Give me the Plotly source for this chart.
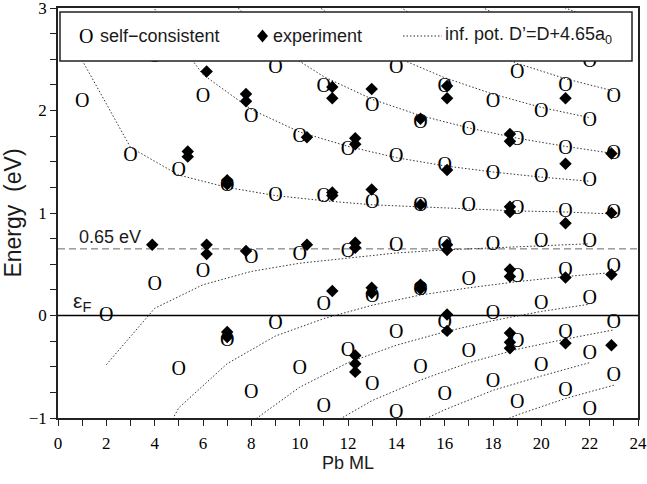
import plotly.graph_objects as go

# ---- self-consistent calculation (open "O" symbols) ----
sc_x = [1, 2, 3, 4, 4, 5, 5, 6, 6, 7, 7,
        8, 8, 8, 9, 9, 9, 10, 10, 10,
        11, 11, 11, 11, 12, 12, 12,
        13, 13, 13, 13, 14, 14, 14, 14, 14,
        15, 15, 15, 15, 16, 16, 16, 16, 16,
        17, 17, 17, 17, 18, 18, 18, 18, 18,
        19, 19, 19, 19, 19, 19, 20, 20, 20, 20, 20,
        21, 21, 21, 21, 21, 21, 22, 22, 22, 22, 22, 22, 22,
        23, 23, 23, 23, 23, 23]
sc_y = [2.08, 0.00, 1.56, 2.52, 0.30, 1.41, -0.53, 2.13, 0.42, 1.26, -0.25,
        1.94, 0.56, -0.76, 2.41, 1.17, -0.08, 1.74, 0.59, -0.52,
        2.23, 1.16, 0.10, -0.89, 1.61, 0.62, -0.35,
        2.04, 1.10, 0.18, -0.68, 2.41, 1.55, 0.68, -0.17, -0.95,
        1.88, 1.07, 0.25, -0.51, 2.23, 1.46, 0.69, -0.07, -0.78,
        1.81, 1.07, 0.35, -0.36, 2.08, 1.38, 0.69, 0.01, -0.65,
        2.37, 1.71, 1.04, 0.38, -0.26, -0.85, 1.99, 1.35, 0.72, 0.11, -0.49,
        2.24, 1.62, 1.01, 0.43, -0.17, -0.74, 2.47, 1.90, 1.31, 0.72, 0.16, -0.38, -0.92,
        2.13, 1.58, 1.00, 0.47, -0.07, -0.59]

# ---- experiment (filled diamonds) ----
exp_x = [3.9, 5.37, 5.37, 6.15, 6.15, 6.15,
         7.0, 7.0, 7.0, 7.0, 7.78, 7.78, 7.78,
         10.3, 10.3, 11.35, 11.35, 11.35, 11.35, 11.35,
         12.3, 12.3, 12.3, 12.3, 12.3, 12.3, 12.3,
         12.98, 12.98, 12.98, 12.98, 15.0, 15.0, 15.0, 15.0,
         16.1, 16.1, 16.1, 16.1, 16.1, 16.1, 16.1,
         18.7, 18.7, 18.7, 18.7, 18.7, 18.7, 18.7, 18.7, 18.7,
         21.0, 21.0, 21.0, 21.0, 21.0,
         22.9, 22.9, 22.9, 22.9]
exp_y = [0.69, 1.60, 1.55, 2.38, 0.69, 0.60,
         1.32, 1.28, -0.16, -0.21, 2.16, 2.09, 0.63,
         1.74, 0.69, 2.23, 2.12, 1.20, 1.17, 0.24,
         1.73, 1.67, 0.71, 0.66, -0.39, -0.47, -0.55,
         2.21, 1.23, 0.27, 0.22, 1.92, 1.08, 0.30, 0.26,
         2.24, 2.12, 1.42, 0.69, 0.64, 0.01, -0.15,
         1.77, 1.70, 1.06, 1.01, 0.45, 0.38, -0.17, -0.26, -0.32,
         2.12, 1.48, 0.90, 0.37, -0.27,
         1.58, 1.00, 0.40, -0.29]

# ---- infinite-potential-well levels, D' = D + 4.65 a0 ----
odd_ml = [1, 3, 5, 7, 9, 11, 13, 15, 17, 19, 21, 23]
even_ml = [2, 4, 6, 8, 10, 12, 14, 16, 18, 20, 22]

well_odd = [
    [None, None, None, None, None, None, None, -1.41, -1.17, -0.97, -0.81, -0.68],
    [None, None, None, None, -1.48, -1.10, -0.83, -0.63, -0.46, -0.33, -0.23, -0.14],
    [None, -1.76, -0.90, -0.47, -0.20, -0.03, 0.10, 0.20, 0.27, 0.33, 0.38, 0.42],
    [2.49, 1.64, 1.37, 1.25, 1.17, 1.12, 1.08, 1.06, 1.04, 1.02, 1.01, 0.99],
    [None, None, 3.92, 3.11, 2.63, 2.33, 2.11, 1.95, 1.83, 1.73, 1.65, 1.58],
    [None, None, None, None, None, 3.60, 3.19, 2.88, 2.65, 2.46, 2.31, 2.19],
    [None, None, None, None, None, None, None, None, None, 3.22, 3.00, 2.81],
]
well_even = [
    [None, None, None, -2.39, -1.83, -1.44, -1.14, -0.92, -0.73, -0.59, -0.46],
    [None, -2.46, -1.56, -1.04, -0.70, -0.46, -0.29, -0.16, -0.05, 0.04, 0.11],
    [-0.48, 0.07, 0.30, 0.43, 0.51, 0.56, 0.61, 0.64, 0.66, 0.68, 0.70],
    [None, 2.99, 2.35, 2.01, 1.79, 1.65, 1.54, 1.46, 1.40, 1.35, 1.31],
    [None, None, None, 3.71, 3.16, 2.79, 2.52, 2.32, 2.16, 2.03, 1.93],
    [None, None, None, None, None, None, 3.54, 3.21, 2.95, 2.74, 2.57],
]

E_MARK = 0.65

SERIF = "Liberation Serif"
SANS = "Liberation Sans"
INK = "#1a1a1a"
DOTS = "1.5px,2px"

fig = go.Figure()

def add_level(xs, ys):
    px = [x for x, y in zip(xs, ys) if y is not None]
    py = [y for y in ys if y is not None]
    fig.add_trace(go.Scatter(x=px, y=py, mode="lines",
                             line=dict(color="#333333", width=1, dash=DOTS),
                             hoverinfo="skip"))

for row in well_odd:
    add_level(odd_ml, row)
for row in well_even:
    add_level(even_ml, row)

fig.add_trace(go.Scatter(x=sc_x, y=sc_y, mode="text", text=["O"] * len(sc_x),
                         textposition="middle center",
                         textfont=dict(family=SERIF, size=20, color="black"),
                         name="self-consistent"))
fig.add_trace(go.Scatter(x=exp_x, y=exp_y, mode="markers",
                         marker=dict(symbol="diamond", size=9.6, color="black",
                                     line=dict(width=0)),
                         name="experiment"))

# reference lines: Fermi level and 0.65 eV
fig.add_shape(type="line", xref="x", yref="y", x0=0, x1=24, y0=0, y1=0,
              line=dict(color="black", width=1.5), layer="below")
fig.add_shape(type="line", xref="x", yref="y", x0=0, x1=24, y0=E_MARK, y1=E_MARK,
              line=dict(color="#666666", width=1, dash="7px,4px"), layer="below")

fig.add_annotation(x=0.78, y=E_MARK, xref="x", yref="y", text="0.65 eV",
                   showarrow=False, xanchor="left", yanchor="bottom",
                   font=dict(family=SANS, size=18, color=INK))
fig.add_annotation(x=0.53, y=0.13, xref="x", yref="y", text="ε<sub>F</sub>",
                   showarrow=False, xanchor="left", yanchor="middle",
                   font=dict(family=SANS, size=21, color=INK))

# legend box
def px_x(p):
    return (p - 58) / 580.0

def px_y(p):
    return (418 - p) / 410.0

ly = px_y(36)
fig.add_shape(type="rect", xref="paper", yref="paper",
              x0=px_x(60), x1=px_x(632), y0=px_y(61), y1=px_y(12),
              line=dict(color="#222222", width=1.5), fillcolor="white", layer="above")
cx, hw, hh = px_x(262.5), 5.5 / 580.0, 6.5 / 410.0
fig.add_shape(type="path", xref="paper", yref="paper",
              path=f"M {cx},{ly + hh} L {cx + hw},{ly} L {cx},{ly - hh} L {cx - hw},{ly} Z",
              fillcolor="black", line=dict(width=0), layer="above")
fig.add_shape(type="line", xref="paper", yref="paper",
              x0=px_x(403), x1=px_x(442), y0=ly, y1=ly,
              line=dict(color="#333333", width=1, dash=DOTS), layer="above")
fig.add_annotation(x=px_x(86), y=ly, xref="paper", yref="paper", text="O",
                   showarrow=False, xanchor="center", yanchor="middle",
                   font=dict(family=SERIF, size=20, color="black"))
fig.add_annotation(x=px_x(98), y=ly, xref="paper", yref="paper", text="self−consistent",
                   showarrow=False, xanchor="left", yanchor="middle",
                   font=dict(family=SANS, size=18, color=INK))
fig.add_annotation(x=px_x(271), y=ly, xref="paper", yref="paper", text="experiment",
                   showarrow=False, xanchor="left", yanchor="middle",
                   font=dict(family=SANS, size=18, color=INK))
fig.add_annotation(x=px_x(443), y=ly, xref="paper", yref="paper",
                   text="inf. pot. D’=D+4.65a<sub>0</sub>",
                   showarrow=False, xanchor="left", yanchor="middle",
                   font=dict(family=SANS, size=18, color=INK))

axis_common = dict(showgrid=False, zeroline=False, showline=True, mirror=True,
                   automargin=False, ticklabeloverflow="allow",
                   linecolor="#222222", linewidth=1.5,
                   ticks="outside", ticklen=6, tickwidth=1.2, tickcolor="#222222",
                   tickfont=dict(family=SERIF, size=17, color="black"))

fig.update_layout(
    width=647, height=484,
    margin=dict(l=58, r=9, t=8, b=66),
    paper_bgcolor="white", plot_bgcolor="white",
    showlegend=False,
    font=dict(family=SANS, color=INK),
    xaxis=dict(range=[0, 24], tick0=0, dtick=2,
               minor=dict(dtick=1, ticks="outside", ticklen=6, tickwidth=1.2,
                          tickcolor="#222222", showgrid=False),
               ticklabelstandoff=3,
               title=dict(text="Pb ML", font=dict(family=SANS, size=18, color=INK),
                          standoff=4),
               **axis_common),
    yaxis=dict(range=[-1, 3], tick0=-1, dtick=1,
               minor=dict(dtick=0.25, ticks="outside", ticklen=6, tickwidth=1.2,
                          tickcolor="#222222", showgrid=False),
               title=dict(text="Energy  (eV)", font=dict(family=SANS, size=23, color=INK),
                          standoff=1),
               **axis_common),
)

fig.write_html("out.html")
